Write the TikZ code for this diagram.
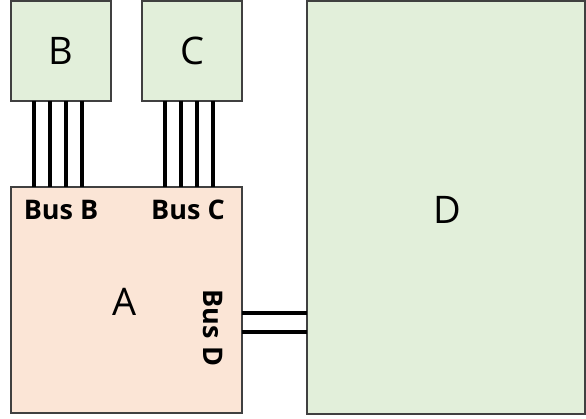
\documentclass[tikz,border=0pt]{standalone}
\usepackage{fontspec}
\setmainfont{Open Sans}
\definecolor{boxgreen}{HTML}{E2EFDA}
\definecolor{boxpeach}{HTML}{FBE5D6}
\definecolor{edge}{HTML}{404040}
\begin{document}
\begin{tikzpicture}[x=1pt,y=-1pt,
  blk/.style={draw=edge,line width=1.1pt,inner sep=0pt,outer sep=0pt,rectangle},
  busline/.style={line width=4.4pt,black},
  big/.style={font=\fontsize{38}{42}\selectfont},
  buslabel/.style={font=\fontsize{27}{30}\selectfont\bfseries,inner sep=0pt}]
\useasboundingbox (0,0) rectangle (586,419);
\node[blk,fill=boxgreen,minimum width=100pt,minimum height=100pt] (B) at (61,51) {};
\node[blk,fill=boxgreen,minimum width=100pt,minimum height=100pt] (C) at (192,51) {};
\node[blk,fill=boxpeach,minimum width=231pt,minimum height=226pt] (A) at (126.5,300) {};
\node[blk,fill=boxgreen,minimum width=278pt,minimum height=413pt] (D) at (446,207.5) {};
\node[big] (lB) at (B.center) {B};
\node[big] (lC) at (C.center) {C};
\node[big] (lA) at (125,302) {A};
\node[big] (lD) at (447,210) {D};
\foreach \o in {-27,-11,5,21}{
  \draw[busline] ([xshift=\o pt]B.south) -- ([xshift=\o pt]B.south |- A.north);
  \draw[busline] ([xshift=\o pt]C.south) -- ([xshift=\o pt]C.south |- A.north);
}
\draw[busline] (A.east |- 0,313) -- (D.west |- 0,313);
\draw[busline] (A.east |- 0,332) -- (D.west |- 0,332);
\node[buslabel] (bB) at (61,210) {Bus B};
\node[buslabel] (bC) at (188,210) {Bus C};
\node[buslabel,rotate=-90] (bD) at (213,328) {Bus D};
\end{tikzpicture}
\end{document}
